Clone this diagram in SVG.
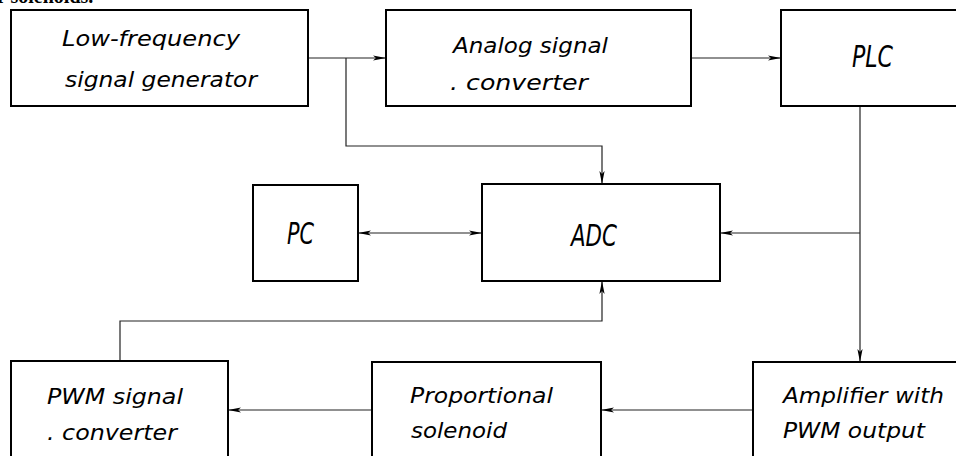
<svg xmlns="http://www.w3.org/2000/svg" width="956" height="456" viewBox="0 0 956 456">
<style>
.box{fill:#fff;stroke:#000;stroke-width:2}
.t{font-family:"DejaVu Sans","Liberation Sans",sans-serif;font-stretch:condensed;font-style:italic;font-size:22px;fill:#000}
.tb{font-family:"DejaVu Sans","Liberation Sans",sans-serif;font-stretch:condensed;font-style:italic;font-size:31px;fill:#000}
.c{fill:none;stroke:#222;stroke-width:1.2}
.top{font-family:"Liberation Serif",serif;font-weight:bold;font-size:20px}
</style>
<defs>
<marker id="ah" markerUnits="userSpaceOnUse" markerWidth="14" markerHeight="8" viewBox="0 -4 14 8" refX="13" refY="0" orient="auto-start-reverse">
<path d="M0,-2.6 L13,0 L0,2.6 L3,0 z" fill="#000"/>
</marker>
</defs>
<rect width="956" height="456" fill="#fff"/>
<text class="top" x="-3" y="2.5">r solenoids.</text>
<g id="connectors">
<path class="c" d="M308,58 H386" marker-end="url(#ah)"/>
<path class="c" d="M346,58 V146 H602 V184" marker-end="url(#ah)"/>
<path class="c" d="M691,58 H781" marker-end="url(#ah)"/>
<path class="c" d="M860,106 V362" marker-end="url(#ah)"/>
<path class="c" d="M860,233 H720" marker-end="url(#ah)"/>
<path class="c" d="M358,233 H482" marker-start="url(#ah)" marker-end="url(#ah)"/>
<path class="c" d="M753,410 H601" marker-end="url(#ah)"/>
<path class="c" d="M372,410 H228" marker-end="url(#ah)"/>
<path class="c" d="M120,361 V321 H602 V281" marker-end="url(#ah)"/>
</g>
<g id="lfgen">
<rect class="box" x="11" y="10" width="297" height="96"/>
<text class="t" x="62" y="46" textLength="178" lengthAdjust="spacingAndGlyphs">Low-frequency</text>
<text class="t" x="65" y="87" textLength="192" lengthAdjust="spacingAndGlyphs">signal generator</text>
</g>
<g id="analog">
<rect class="box" x="386" y="10" width="305" height="96"/>
<text class="t" x="453" y="53" textLength="155" lengthAdjust="spacingAndGlyphs">Analog signal</text>
<text class="t" x="450" y="90" textLength="138" lengthAdjust="spacingAndGlyphs">. converter</text>
</g>
<g id="plc">
<rect class="box" x="781" y="10" width="185" height="96"/>
<text class="tb" x="852" y="67" textLength="41" lengthAdjust="spacingAndGlyphs">PLC</text>
</g>
<g id="pc">
<rect class="box" x="253" y="185" width="105" height="96"/>
<text class="tb" x="287" y="244" textLength="27" lengthAdjust="spacingAndGlyphs">PC</text>
</g>
<g id="adc">
<rect class="box" x="482" y="184" width="238" height="97"/>
<text class="tb" x="571" y="246" textLength="46" lengthAdjust="spacingAndGlyphs">ADC</text>
</g>
<g id="pwmconv">
<rect class="box" x="11" y="361" width="217" height="110"/>
<text class="t" x="47" y="404" textLength="136" lengthAdjust="spacingAndGlyphs">PWM signal</text>
<text class="t" x="47" y="440" textLength="130" lengthAdjust="spacingAndGlyphs">. converter</text>
</g>
<g id="solenoid">
<rect class="box" x="372" y="362" width="229" height="110"/>
<text class="t" x="410" y="403" textLength="143" lengthAdjust="spacingAndGlyphs">Proportional</text>
<text class="t" x="411" y="438" textLength="96" lengthAdjust="spacingAndGlyphs">solenoid</text>
</g>
<g id="amplifier">
<rect class="box" x="753" y="362" width="213" height="110"/>
<text class="t" x="783" y="403" textLength="161" lengthAdjust="spacingAndGlyphs">Amplifier with</text>
<text class="t" x="783" y="438" textLength="142" lengthAdjust="spacingAndGlyphs">PWM output</text>
</g>
</svg>
